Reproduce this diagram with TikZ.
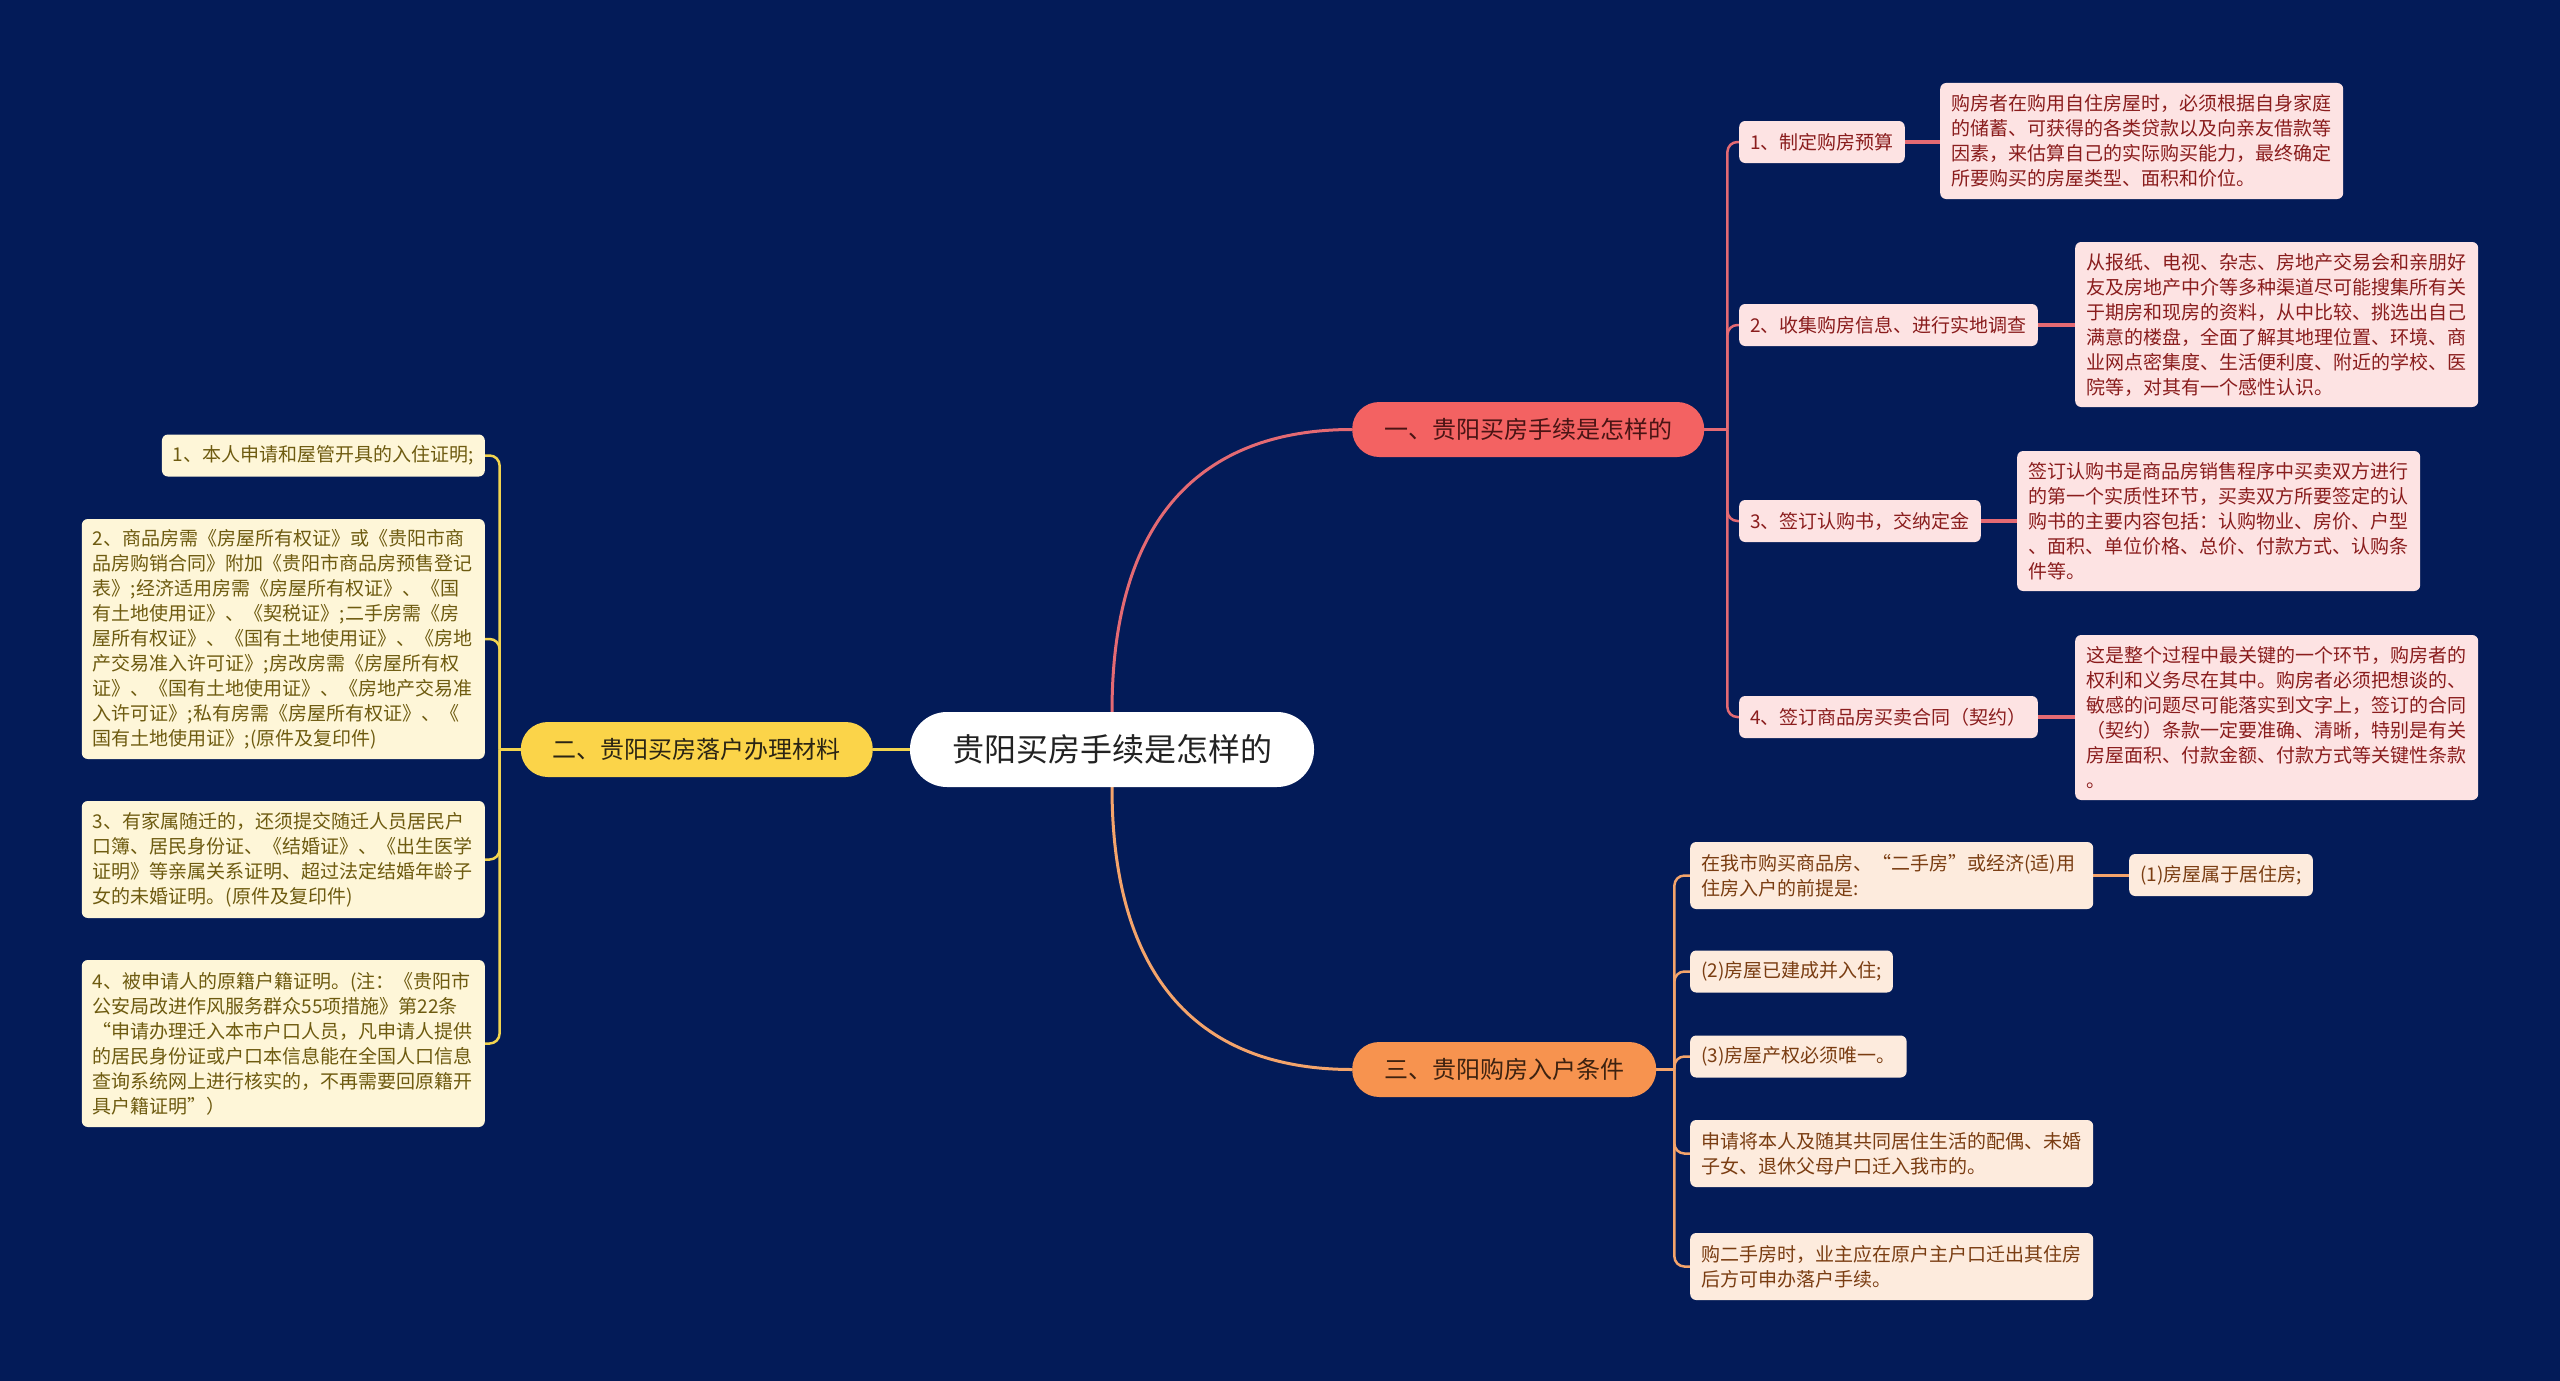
\documentclass[tikz,border=0pt]{standalone}
\usepackage{fontspec}
\setmainfont{Noto Sans CJK SC}
\pgfdeclarelayer{bg}
\pgfdeclarelayer{edges}
\pgfsetlayers{bg,edges,main}
\definecolor{bgc}{HTML}{031B58}
\definecolor{rootText}{HTML}{222222}
\definecolor{bAfill}{HTML}{F36262}
\definecolor{bAtext}{HTML}{4A1414}
\definecolor{bBfill}{HTML}{FBD449}
\definecolor{bBtext}{HTML}{2A2414}
\definecolor{bCfill}{HTML}{F7934F}
\definecolor{bCtext}{HTML}{3D2210}
\definecolor{kAfill}{HTML}{FDE3E3}
\definecolor{kAtext}{HTML}{8A1D1D}
\definecolor{kBfill}{HTML}{FEF6D8}
\definecolor{kBtext}{HTML}{6E5B10}
\definecolor{kCfill}{HTML}{FDEBDD}
\definecolor{kCtext}{HTML}{7A3D12}
\definecolor{lnA}{HTML}{E46A73}
\definecolor{lnB}{HTML}{F2D44F}
\definecolor{lnC}{HTML}{F4A46B}
\tikzset{
  rootnode/.style={fill=white, rounded corners=37pt, minimum height=75pt, inner xsep=42pt, inner ysep=0pt, font=\fontsize{32}{38}\selectfont, text=rootText},
  branch/.style={rounded corners=27pt, minimum height=55pt, inner xsep=32pt, inner ysep=0pt, font=\fontsize{24}{28}\selectfont},
  brA/.style={branch, fill=bAfill, text=bAtext},
  brB/.style={branch, fill=bBfill, text=bBtext},
  brC/.style={branch, fill=bCfill, text=bCtext},
  kid/.style={rounded corners=6pt, inner xsep=11pt, inner ysep=3pt, minimum height=42pt, font=\fontsize{19}{25}\selectfont, align=left},
  kidA/.style={kid, fill=kAfill, text=kAtext},
  kidB/.style={kid, fill=kBfill, text=kBtext},
  kidC/.style={kid, fill=kCfill, text=kCtext},
  wide/.style={text width=381pt},
  edA/.style={draw=lnA, line width=2.5pt},
  edB/.style={draw=lnB, line width=2.5pt},
  edC/.style={draw=lnC, line width=2.5pt},
  elbow/.style={rounded corners=10pt},
}
\begin{document}
\begin{tikzpicture}[x=1pt,y=1pt]
\begin{pgfonlayer}{bg}
\fill[bgc] (0,0) rectangle (2560,-1381);
\end{pgfonlayer}
\useasboundingbox (0,0) rectangle (2560,-1381);

% root and branches
\node[rootnode] (root) at (1112,-749.5) {贵阳买房手续是怎样的};
\node[brA, anchor=west] (b1) at (1352,-429.5) {一、贵阳买房手续是怎样的};
\node[brB, anchor=east] (b2) at (873,-749.5) {二、贵阳买房落户办理材料};
\node[brC, anchor=west] (b3) at (1352,-1069.5) {三、贵阳购房入户条件};

% branch 1 children
\node[kidA, anchor=west] (c1a) at (1739,-142) {1、制定购房预算};
\node[kidA, anchor=west] (c1b) at (1739,-325) {2、收集购房信息、进行实地调查};
\node[kidA, anchor=west] (c1c) at (1739,-521) {3、签订认购书，交纳定金};
\node[kidA, anchor=west] (c1d) at (1739,-717) {4、签订商品房买卖合同（契约）};

\node[kidA, wide, minimum height=116pt, anchor=west] (d1a) at (1940,-141) {购房者在购用自住房屋时，必须根据自身家庭\\的储蓄、可获得的各类贷款以及向亲友借款等\\因素，来估算自己的实际购买能力，最终确定\\所要购买的房屋类型、面积和价位。};
\node[kidA, wide, minimum height=165pt, anchor=west] (d1b) at (2075,-324.5) {从报纸、电视、杂志、房地产交易会和亲朋好\\友及房地产中介等多种渠道尽可能搜集所有关\\于期房和现房的资料，从中比较、挑选出自己\\满意的楼盘，全面了解其地理位置、环境、商\\业网点密集度、生活便利度、附近的学校、医\\院等，对其有一个感性认识。};
\node[kidA, wide, minimum height=140pt, anchor=west] (d1c) at (2017,-521) {签订认购书是商品房销售程序中买卖双方进行\\的第一个实质性环节，买卖双方所要签定的认\\购书的主要内容包括：认购物业、房价、户型\\、面积、单位价格、总价、付款方式、认购条\\件等。};
\node[kidA, wide, minimum height=165pt, anchor=west] (d1d) at (2075,-717.5) {这是整个过程中最关键的一个环节，购房者的\\权利和义务尽在其中。购房者必须把想谈的、\\敏感的问题尽可能落实到文字上，签订的合同\\（契约）条款一定要准确、清晰，特别是有关\\房屋面积、付款金额、付款方式等关键性条款\\。};

% branch 3 children
\node[kidC, wide, minimum height=67pt, anchor=west] (c3a) at (1690,-875.5) {在我市购买商品房、“二手房”或经济(适)用\\住房入户的前提是:};
\node[kidC, anchor=west] (d3a) at (2129,-875) {(1)房屋属于居住房;};
\node[kidC, anchor=west] (c3b) at (1690,-971.5) {(2)房屋已建成并入住;};
\node[kidC, anchor=west] (c3c) at (1690,-1056.5) {(3)房屋产权必须唯一。};
\node[kidC, wide, minimum height=67pt, anchor=west] (c3d) at (1690,-1153.5) {申请将本人及随其共同居住生活的配偶、未婚\\子女、退休父母户口迁入我市的。};
\node[kidC, wide, minimum height=67pt, anchor=west] (c3e) at (1690,-1266.5) {购二手房时，业主应在原户主户口迁出其住房\\后方可申办落户手续。};

% branch 2 children
\node[kidB, anchor=east] (c2a) at (485,-455.5) {1、本人申请和屋管开具的入住证明;};
\node[kidB, wide, minimum height=240pt, anchor=east] (c2b) at (485,-639) {2、商品房需《房屋所有权证》或《贵阳市商\\品房购销合同》附加《贵阳市商品房预售登记\\表》;经济适用房需《房屋所有权证》、《国\\有土地使用证》、《契税证》;二手房需《房\\屋所有权证》、《国有土地使用证》、《房地\\产交易准入许可证》;房改房需《房屋所有权\\证》、《国有土地使用证》、《房地产交易准\\入许可证》;私有房需《房屋所有权证》、《\\国有土地使用证》;(原件及复印件)};
\node[kidB, wide, minimum height=117pt, anchor=east] (c2c) at (485,-859.5) {3、有家属随迁的，还须提交随迁人员居民户\\口簿、居民身份证、《结婚证》、《出生医学\\证明》等亲属关系证明、超过法定结婚年龄子\\女的未婚证明。(原件及复印件)};
\node[kidB, wide, minimum height=167pt, anchor=east] (c2d) at (485,-1043.5) {4、被申请人的原籍户籍证明。(注：《贵阳市\\公安局改进作风服务群众55项措施》第22条\\“申请办理迁入本市户口人员，凡申请人提供\\的居民身份证或户口本信息能在全国人口信息\\查询系统网上进行核实的，不再需要回原籍开\\具户籍证明”）};

\coordinate (j1) at ([xshift=23pt]b1.east);
\coordinate (j2) at ([xshift=-21pt]b2.west);
\coordinate (j3) at ([xshift=18pt]b3.east);

\begin{pgfonlayer}{edges}
\draw[edA, line width=3pt] (root.north) .. controls +(0,192) and +(-152,0) .. (b1.west);
\draw[edC, line width=3pt] (root.south) .. controls +(0,-192) and +(-152,0) .. (b3.west);
\draw[edB, line width=3pt] (root.west) -- (b2.east);
\draw[edA] (b1.east) -- (j1);
\draw[edB] (b2.west) -- (j2);
\draw[edC] (b3.east) -- (j3);
\foreach \n in {c1a,c1b,c1c,c1d} \draw[edA, elbow] (j1) |- (\n.west);
\foreach \n in {c3a,c3b,c3c,c3d,c3e} \draw[edC, elbow] (j3) |- (\n.west);
\foreach \n in {c2a,c2b,c2c,c2d} \draw[edB, elbow] (j2) |- (\n.east);
\draw[edA, line width=3.5pt] (c1a.east) -- (c1a.east -| d1a.west);
\draw[edA, line width=3.5pt] (c1b.east) -- (c1b.east -| d1b.west);
\draw[edA, line width=3.5pt] (c1c.east) -- (c1c.east -| d1c.west);
\draw[edA, line width=3.5pt] (c1d.east) -- (c1d.east -| d1d.west);
\draw[edC, line width=3.5pt] (c3a.east) -- (c3a.east -| d3a.west);
\end{pgfonlayer}
\end{tikzpicture}
\end{document}
